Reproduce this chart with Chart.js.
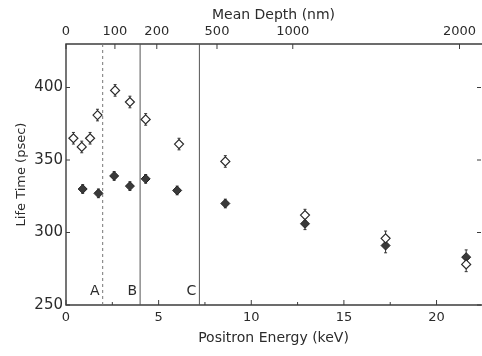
<!DOCTYPE html>
<html>
<head>
<meta charset="utf-8">
<script src="https://cdn.jsdelivr.net/npm/chart.js@4"></script>
<style>
  html, body { margin: 0; padding: 0; background: #fff; }
  canvas { display: block; }
</style>
</head>
<body>
<canvas id="lifeChart" width="482" height="356"></canvas>
<script>
// positron lifetime vs. implantation energy
const openEnergy = [0.4, 0.85, 1.3, 1.7, 2.65, 3.45, 4.3, 6.1, 8.6, 12.9, 17.25, 21.6];
const openLife = [365, 359, 365, 381, 398, 390, 378, 361, 349, 312, 296, 278];
const openErr = [4, 4, 4, 4, 4, 4, 4, 4, 4, 4, 5, 5];
const filledEnergy = [0.9, 1.75, 2.6, 3.45, 4.3, 6.0, 8.6, 12.9, 17.25, 21.6];
const filledLife = [330, 327, 339, 332, 337, 329, 320, 306, 291, 283];
const filledErr = [3, 3, 3, 3, 3, 3, 3, 4, 5, 5];

const energyTicks = [0, 2.5, 5, 7.5, 10, 12.5, 15, 17.5, 20];
const lifeTicks = [250, 300, 350, 400];
const depthLabels = ['0', '100', '200', '500', '1000', '2000'];
const depthEnergy = [0, 2.64, 4.9, 8.15, 12.24, 21.24];
const regionNames = ['A', 'B', 'C'];
const regionEnergy = [1.98, 4.0, 7.2];

const ink = '#2b2b2b';
const family = "'DejaVu Sans', sans-serif";

const pts = (xs, ys) => xs.map((e, i) => ({x: e, y: ys[i]}));

// frame, inward ticks, region lines and error bars
const decor = {
  id: 'decor',
  beforeDatasetsDraw(chart) {
    const {ctx, chartArea: a, scales} = chart;
    const x = scales.x, y = scales.y, x2 = scales.x2;
    ctx.save();
    ctx.strokeStyle = '#3c3c3c';
    ctx.lineWidth = 1.4;
    // left, top and bottom sides; the right side runs off the canvas
    ctx.beginPath();
    ctx.moveTo(a.right + 2, a.top); ctx.lineTo(a.left, a.top);
    ctx.lineTo(a.left, a.bottom); ctx.lineTo(a.right + 2, a.bottom);
    ctx.stroke();

    ctx.lineWidth = 1;
    x.ticks.forEach(t => {
      const px = x.getPixelForValue(t.value);
      const len = t.value % 5 === 0 ? 5 : 3;
      ctx.beginPath(); ctx.moveTo(px, a.bottom); ctx.lineTo(px, a.bottom - len); ctx.stroke();
    });
    x2.ticks.forEach(t => {
      const px = x2.getPixelForValue(t.value);
      ctx.beginPath(); ctx.moveTo(px, a.top); ctx.lineTo(px, a.top + 5); ctx.stroke();
    });
    y.ticks.forEach(t => {
      const py = y.getPixelForValue(t.value);
      ctx.beginPath(); ctx.moveTo(a.left, py); ctx.lineTo(a.left + 4, py); ctx.stroke();
      ctx.beginPath(); ctx.moveTo(a.right, py); ctx.lineTo(a.right - 4, py); ctx.stroke();
    });

    // region boundaries A, B, C
    regionEnergy.forEach((e, i) => {
      const px = x.getPixelForValue(e);
      ctx.strokeStyle = i === 0 ? '#777' : '#555';
      ctx.lineWidth = 1;
      ctx.setLineDash(i === 0 ? [3, 3] : []);
      ctx.beginPath(); ctx.moveTo(px, a.top); ctx.lineTo(px, a.bottom); ctx.stroke();
      ctx.setLineDash([]);
      ctx.fillStyle = ink;
      ctx.font = '14px ' + family;
      ctx.textAlign = 'right';
      ctx.textBaseline = 'middle';
      ctx.fillText(regionNames[i], px - 3, y.getPixelForValue(259.5));
    });

    // error bars
    ctx.strokeStyle = '#333';
    ctx.lineWidth = 1;
    [[openEnergy, openLife, openErr], [filledEnergy, filledLife, filledErr]].forEach(([xs, ys, es]) => {
      xs.forEach((e, i) => {
        const px = x.getPixelForValue(e);
        const top = y.getPixelForValue(ys[i] + es[i]);
        const bot = y.getPixelForValue(ys[i] - es[i]);
        ctx.beginPath();
        ctx.moveTo(px, top); ctx.lineTo(px, bot);
        ctx.moveTo(px - 1.5, top); ctx.lineTo(px + 1.5, top);
        ctx.moveTo(px - 1.5, bot); ctx.lineTo(px + 1.5, bot);
        ctx.stroke();
      });
    });
    ctx.restore();
  }
};

new Chart(document.getElementById('lifeChart').getContext('2d'), {
  type: 'scatter',
  data: {
    datasets: [
      {label: 'open', data: pts(openEnergy, openLife), pointStyle: 'rectRot', radius: 4.5,
       backgroundColor: '#fff', borderColor: '#2a2a2a', borderWidth: 1.2},
      {label: 'filled', data: pts(filledEnergy, filledLife), pointStyle: 'rectRot', radius: 4.5,
       backgroundColor: '#3a3a3a', borderColor: '#222', borderWidth: 1}
    ]
  },
  options: {
    responsive: false,
    animation: false,
    layout: {autoPadding: false, padding: {left: 0, right: 1, top: 0, bottom: 0}},
    plugins: {legend: {display: false}, tooltip: {enabled: false}},
    scales: {
      x: {
        type: 'linear', position: 'bottom', min: 0, max: 22.4,
        afterBuildTicks: s => { s.ticks = energyTicks.map(v => ({value: v})); },
        afterFit: s => { s.height = 51; s.paddingLeft = 0; s.paddingRight = 0; },
        grid: {display: false, drawTicks: false}, border: {display: false},
        ticks: {autoSkip: false, maxRotation: 0, padding: 5, color: ink,
                font: {family, size: 13}, callback: v => v % 5 === 0 ? String(v) : ''},
        title: {display: true, text: 'Positron Energy (keV)', color: ink,
                font: {family, size: 14}, padding: {top: 0, bottom: 9}}
      },
      x2: {
        type: 'linear', position: 'top', min: 0, max: 22.4,
        afterBuildTicks: s => { s.ticks = depthEnergy.map(v => ({value: v})); },
        afterFit: s => { s.height = 44; s.paddingLeft = 0; s.paddingRight = 0; },
        grid: {display: false, drawTicks: false}, border: {display: false},
        ticks: {autoSkip: false, maxRotation: 0, padding: 5, color: ink,
                font: {family, size: 13}, callback: (v, i) => depthLabels[i]},
        title: {display: true, text: 'Mean Depth (nm)', color: ink,
                font: {family, size: 14}, padding: {top: 7, bottom: 0}}
      },
      y: {
        type: 'linear', position: 'left', min: 250, max: 430,
        afterBuildTicks: s => { s.ticks = lifeTicks.map(v => ({value: v})); },
        afterFit: s => { s.width = 66; s.paddingTop = 0; s.paddingBottom = 0; },
        grid: {display: false, drawTicks: false}, border: {display: false},
        ticks: {autoSkip: false, padding: 3, color: ink, font: {family, size: 15}},
        title: {display: true, text: 'Life Time (psec)', color: ink,
                font: {family, size: 13}, padding: {top: 14, bottom: 0}}
      }
    }
  },
  plugins: [decor]
});
</script>
</body>
</html>
